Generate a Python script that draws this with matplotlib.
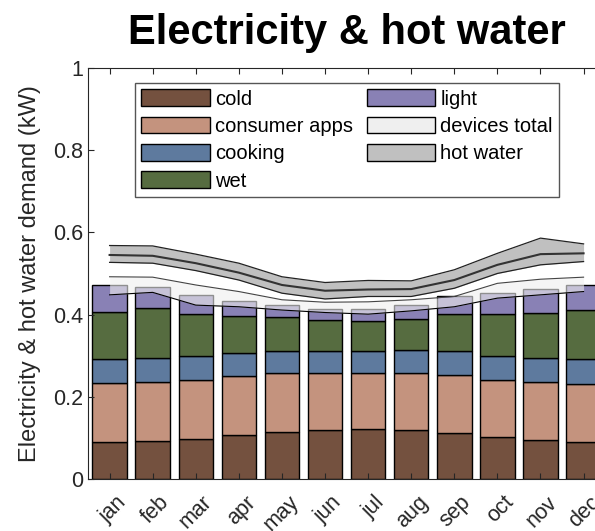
import matplotlib.pyplot as plt
import matplotlib.transforms as mtransforms
import numpy as np
from matplotlib.patches import Patch

plt.rcParams['font.family'] = ['Liberation Sans', 'DejaVu Sans']

months = ["jan", "feb", "mar", "apr", "may", "jun", "jul", "aug", "sep", "oct", "nov", "dec"]

# cumulative tops (kW)
cold_top = [0.091, 0.093, 0.098, 0.107, 0.114, 0.119, 0.121, 0.119, 0.112, 0.102, 0.094, 0.089]
consumer_top = [0.233, 0.235, 0.240, 0.251, 0.259, 0.259, 0.259, 0.259, 0.253, 0.242, 0.235, 0.232]
cooking_top = [0.293, 0.295, 0.299, 0.306, 0.312, 0.311, 0.311, 0.314, 0.311, 0.298, 0.294, 0.293]
wet_top = [0.407, 0.415, 0.401, 0.396, 0.393, 0.387, 0.385, 0.389, 0.401, 0.401, 0.403, 0.410]
light_top = [0.471, 0.468, 0.448, 0.432, 0.424, 0.414, 0.414, 0.423, 0.444, 0.453, 0.463, 0.473]

# devices total band
dev_low = [0.448, 0.454, 0.423, 0.419, 0.411, 0.405, 0.401, 0.409, 0.419, 0.440, 0.448, 0.456]
dev_high = [0.492, 0.491, 0.472, 0.456, 0.436, 0.430, 0.431, 0.436, 0.444, 0.476, 0.486, 0.491]

# hot water band (stacked on devices)
hw_low = [0.527, 0.525, 0.507, 0.484, 0.452, 0.438, 0.444, 0.444, 0.464, 0.500, 0.521, 0.529]
hw_mid = [0.545, 0.543, 0.525, 0.502, 0.472, 0.458, 0.461, 0.462, 0.484, 0.521, 0.547, 0.549]
hw_high = [0.568, 0.567, 0.547, 0.525, 0.492, 0.478, 0.483, 0.482, 0.509, 0.549, 0.586, 0.572]

colors = ["#74513f", "#c4937e", "#5e7a9e", "#566c40", "#8981b5"]
labels = ["cold", "consumer apps", "cooking", "wet", "light"]

x = np.arange(1, 13)
tops = [cold_top, consumer_top, cooking_top, wet_top, light_top]
axcol = "#262626"

fig = plt.figure(figsize=(5.95, 5.31), dpi=100)
ax = fig.add_axes([0.148, 0.098, 0.869, 0.774])

handles = []
bottom = np.zeros(12)
for top, c, lab in zip(tops, colors, labels):
    top = np.array(top)
    h = ax.bar(x, top - bottom, 0.8, bottom=bottom, color=c, edgecolor="k", linewidth=1, label=lab)
    handles.append(h)
    bottom = top

ax.fill_between(x, dev_low, dev_high, color="#efefef", alpha=0.6, linewidth=0, zorder=3)
ax.plot(x, dev_low, color="k", lw=0.8, zorder=4)
ax.plot(x, dev_high, color="#444444", lw=0.8, zorder=4)

ax.fill_between(x, hw_low, hw_high, color="#c0c0c0", linewidth=0, zorder=3)
ax.plot(x, hw_low, color="#222222", lw=0.9, zorder=4)
ax.plot(x, hw_high, color="#222222", lw=0.9, zorder=4)
ax.plot(x, hw_mid, color="#333333", lw=1.5, zorder=4)

dev_patch = Patch(facecolor="#efefef", edgecolor="k", label="devices total")
hw_patch = Patch(facecolor="#c0c0c0", edgecolor="k", label="hot water")
leg_handles = handles + [dev_patch, hw_patch]
leg_labels = labels + ["devices total", "hot water"]
leg = ax.legend(leg_handles, leg_labels, ncol=2, loc="upper left", bbox_to_anchor=(0.091, 0.963),
                fontsize=14.5, handlelength=3.4, handleheight=0.9, handletextpad=0.25,
                labelspacing=0.4, columnspacing=0.7, borderpad=0.3, borderaxespad=0,
                fancybox=False, edgecolor="#555555", framealpha=1)
leg.get_frame().set_linewidth(1)

ax.set_xlim(0.5, 12.5)
ax.set_ylim(0, 1)
ax.set_xticks(x)
ax.set_xticklabels(months, rotation=45, ha="right", rotation_mode="anchor")
ax.set_yticks([0, 0.2, 0.4, 0.6, 0.8, 1])
ax.set_yticklabels(["0", "0.2", "0.4", "0.6", "0.8", "1"])
ax.tick_params(direction="in", top=True, right=True, labelsize=15.5, length=4, colors=axcol,
               labelcolor=axcol)
for s in ax.spines.values():
    s.set_color(axcol)

# nudge month labels right and down, like the original export
shift = mtransforms.ScaledTranslation(6 / 100, -8 / 100, fig.dpi_scale_trans)
for lab in ax.get_xticklabels():
    lab.set_transform(lab.get_transform() + shift)

ax.set_ylabel("Electricity & hot water demand (kW)", fontsize=17, color=axcol, labelpad=9)
ax.set_title("Electricity & hot water", fontsize=30, fontweight="bold", pad=17)

fig.savefig("out.png", dpi=100)
